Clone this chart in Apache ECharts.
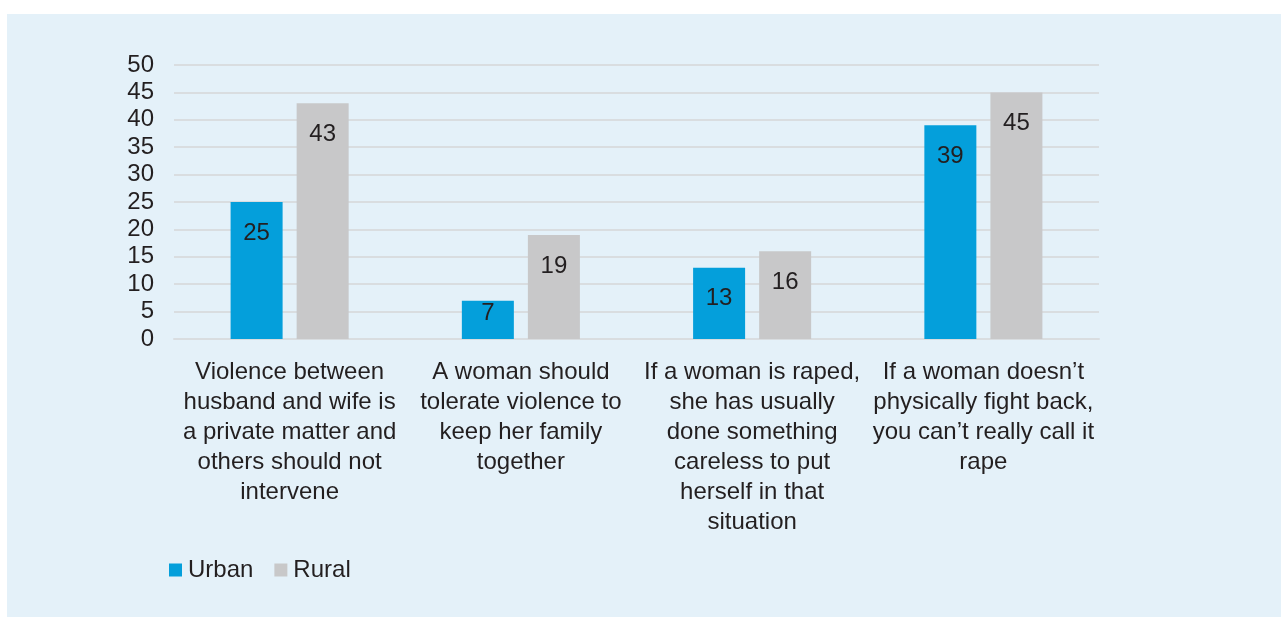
<!DOCTYPE html>
<html>
<head>
<meta charset="utf-8">
<script src="https://cdn.jsdelivr.net/npm/echarts@6/dist/echarts.min.js"></script>
<style>
  html, body { margin: 0; padding: 0; background: #ffffff; }
  #chart { position: absolute; left: 7px; top: 14px; width: 1274px; height: 603px; background: #e4f1f9; }
</style>
</head>
<body>
<div id="chart"></div>
<script>
const categories = [
    'Violence between\nhusband and wife is\na private matter and\nothers should not\nintervene',
    'A woman should\ntolerate violence to\nkeep her family\ntogether',
    'If a woman is raped,\nshe has usually\ndone something\ncareless to put\nherself in that\nsituation',
    'If a woman doesn\u2019t\nphysically fight back,\nyou can\u2019t really call it\nrape'
];
const urbanValues = [25, 7, 13, 39];
const ruralValues = [43, 19, 16, 45];
const yTicks = { min: 0, max: 50, interval: 5 };

const fontFamily = 'Liberation Sans, Arial, sans-serif';
const textColor = '#231f20';

// Labels sit near the top of each bar; the short bar keeps its label closer
function barData(values) {
    return values.map(function (v) {
        if (v < 10) {
            return { value: v, label: { distance: 1 } };
        }
        return v;
    });
}

const chart = echarts.init(document.getElementById('chart'));

var option = {
    animation: false,
    textStyle: { fontFamily: fontFamily },
    grid: {
        left: 167,
        top: 51,
        width: 925,
        height: 274,
        containLabel: false
    },
    legend: {
        left: 157,
        top: 539,
        itemWidth: 13,
        itemHeight: 13,
        itemGap: 21,
        icon: 'rect',
        textStyle: { fontSize: 24, color: textColor, fontFamily: fontFamily, padding: [0, 0, 0, 1] },
        data: ['Urban', 'Rural']
    },
    xAxis: {
        type: 'category',
        data: categories,
        axisTick: { show: false },
        axisLine: { lineStyle: { color: '#d9dde0', width: 2 } },
        axisLabel: {
            interval: 0,
            fontSize: 24,
            lineHeight: 30,
            color: textColor,
            margin: 18
        }
    },
    yAxis: {
        type: 'value',
        min: yTicks.min,
        max: yTicks.max,
        interval: yTicks.interval,
        axisLine: { show: false },
        axisTick: { show: false },
        axisLabel: { fontSize: 24, color: textColor, margin: 20, padding: [5, 0, 0, 0] },
        splitLine: { lineStyle: { color: '#d9dde0', width: 2 } }
    },
    series: [
        {
            name: 'Urban',
            type: 'bar',
            data: barData(urbanValues),
            barWidth: 52,
            barGap: '27%',
            itemStyle: { color: '#049fdb' },
            label: {
                show: true,
                position: 'insideTop',
                distance: 19,
                fontSize: 24,
                color: textColor
            }
        },
        {
            name: 'Rural',
            type: 'bar',
            data: barData(ruralValues),
            barWidth: 52,
            barGap: '27%',
            itemStyle: { color: '#c8c8c9' },
            label: {
                show: true,
                position: 'insideTop',
                distance: 19,
                fontSize: 24,
                color: textColor
            }
        }
    ]
};

option && chart.setOption(option);
window.addEventListener('resize', chart.resize);
</script>
</body>
</html>
